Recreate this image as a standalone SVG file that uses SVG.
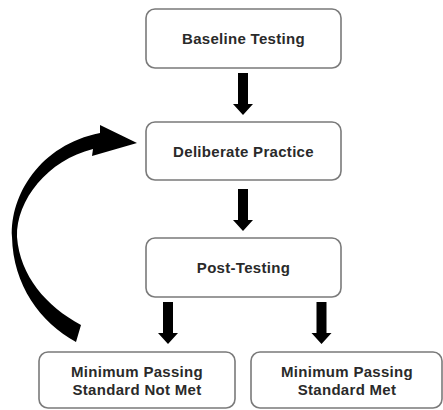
<svg xmlns="http://www.w3.org/2000/svg" width="443" height="410" viewBox="0 0 443 410">
<style>
.box{fill:#fff;stroke:#7a7a7a;stroke-width:1.6}
.lbl{font-family:"Liberation Sans",Arial,sans-serif;font-weight:bold;font-size:15px;fill:#2a2a2a;text-anchor:middle;letter-spacing:0.3px}
.arr{fill:#000}
</style>
<defs>
<path id="down" d="M -5 0 H 5 V 31 H 10 L 0 42 L -10 31 H -5 Z"/>
</defs>
<rect width="443" height="410" fill="#fff"/>
<g id="connectors">
<use href="#down" class="arr" x="243" y="73"/>
<use href="#down" class="arr" x="243" y="189"/>
<use href="#down" class="arr" x="168" y="302"/>
<use href="#down" class="arr" x="321.5" y="302"/>
<path class="arr" d="M 81 325 C 46 306 20 276 17 237 C 16 200 48 160 93 149 L 92 156 L 137 143 L 100 125 L 100 133 C 40 145 10 195 12 237 C 13 285 40 322 76 342 Z"/>
</g>
<g id="baseline">
<rect class="box" x="146" y="9" width="195" height="59" rx="9"/>
<text class="lbl" x="243.5" y="44">Baseline Testing</text>
</g>
<g id="practice">
<rect class="box" x="146" y="122" width="195" height="58" rx="9"/>
<text class="lbl" x="243.5" y="157">Deliberate Practice</text>
</g>
<g id="posttest">
<rect class="box" x="146" y="238" width="195" height="59" rx="9"/>
<text class="lbl" x="243.5" y="273">Post-Testing</text>
</g>
<g id="notmet">
<rect class="box" x="39" y="352" width="196" height="56" rx="9"/>
<text class="lbl" x="137" y="377">Minimum Passing</text>
<text class="lbl" x="137" y="395">Standard Not Met</text>
</g>
<g id="met">
<rect class="box" x="251" y="352" width="191" height="56" rx="9"/>
<text class="lbl" x="347" y="377">Minimum Passing</text>
<text class="lbl" x="347" y="395">Standard Met</text>
</g>
</svg>
